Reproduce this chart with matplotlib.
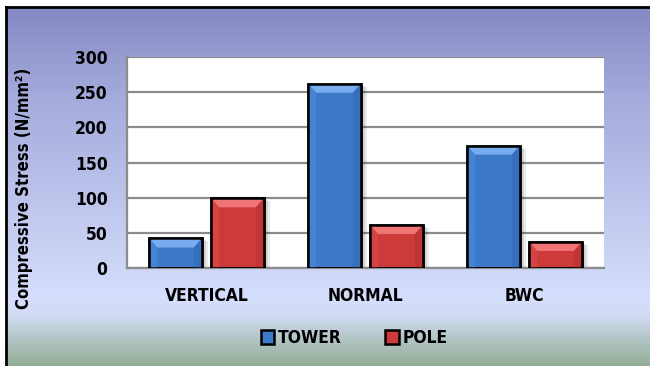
import numpy as np
import matplotlib.pyplot as plt
from matplotlib.colors import LinearSegmentedColormap
from matplotlib.patches import Polygon, Rectangle

plt.rcParams['font.family'] = ['DejaVu Sans']
plt.rcParams['font.stretch'] = 'condensed'
plt.rcParams['font.weight'] = 'bold'

categories = ['VERTICAL', 'NORMAL', 'BWC']
tower = [42, 262, 174]
pole = [99, 61, 37]
series_names = ['TOWER', 'POLE']
yticks = [0, 50, 100, 150, 200, 250, 300]

W, H = 650, 366
fig = plt.figure(figsize=(W / 100, H / 100), dpi=100)

# gradient backdrop for the chart frame
bg = fig.add_axes([6 / W, -0.02, 1.0, (H - 7) / H + 0.02], zorder=-10)
cmap = LinearSegmentedColormap.from_list(
    'frame', [(0, '#8488c3'), (0.25, '#a5abdc'), (0.80, '#d5defc'),
              (0.84, '#d2dcf5'), (1.0, '#8ba889')])
bg.imshow(np.linspace(0, 1, 256)[:, None], aspect='auto', cmap=cmap,
          extent=[0, 1, 0, 1])
bg.set_xticks([])
bg.set_yticks([])
for s in ['right', 'bottom']:
    bg.spines[s].set_visible(False)
for s in ['left', 'top']:
    bg.spines[s].set_linewidth(2)
    bg.spines[s].set_color('black')

ax = fig.add_axes([127 / W, (H - 268) / H, (604 - 127) / W, (268 - 57) / H])
ax.set_facecolor('white')
ax.set_ylim(0, 300)
ax.set_xlim(-0.5, 2.5)
ax.set_yticks(yticks)
ax.yaxis.grid(True, color='#8c8c8c', linewidth=1.6)
ax.set_axisbelow(True)
for s in ['top', 'right']:
    ax.spines[s].set_visible(False)
for s in ['left', 'bottom']:
    ax.spines[s].set_color('#8c8c8c')
    ax.spines[s].set_linewidth(1.6)
ax.tick_params(length=0, labelsize=12.5, pad=14)
ax.tick_params(axis='x', pad=14)
x = np.arange(len(categories))
ax.set_xticks(x)
ax.set_xticklabels(categories)

bw, off = 0.33, 0.195
colors = [('#3d79c9', '#78acee', '#4684d2', '#3670bd'),
          ('#cc3a3a', '#f07474', '#d44444', '#bf3434')]

px_x = 3.0 / (604 - 127)
px_y = 300.0 / (268 - 57)
for vals, sign, (face, top, side_l, side_r), name in zip(
        [tower, pole], [-1, 1], colors, series_names):
    bars = ax.bar(x + sign * off, vals, bw, color=face, edgecolor='black',
                  linewidth=1.8, label=name, zorder=3)
    for b in bars:
        bx, bwid, bh = b.get_x(), b.get_width(), b.get_height()
        # soft drop shadow to the right
        for k, a in [(6, 0.08), (4, 0.10), (2, 0.14)]:
            ax.add_patch(Rectangle((bx + k * px_x, 0), bwid, bh - k * px_y * 0.5,
                                   color='black', alpha=a, lw=0, zorder=2))
        dx = 8 * px_x
        dy = min(9 * px_y, bh * 0.45)
        ax.add_patch(Polygon([(bx, bh), (bx + dx, bh - dy), (bx + dx, 0), (bx, 0)],
                             closed=True, color=side_l, lw=0, zorder=4))
        ax.add_patch(Polygon([(bx + bwid, bh), (bx + bwid - dx, bh - dy),
                              (bx + bwid - dx, 0), (bx + bwid, 0)],
                             closed=True, color=side_r, lw=0, zorder=4))
        ax.add_patch(Polygon([(bx, bh), (bx + bwid, bh), (bx + bwid - dx, bh - dy),
                              (bx + dx, bh - dy)], closed=True, color=top,
                             lw=0, zorder=4))
        ax.add_patch(Rectangle((bx, 0), bwid, bh, fill=False, edgecolor='black',
                               lw=1.8, zorder=5))

fig.text(24 / W, 1 - 188 / H, 'Compressive Stress (N/mm²)', rotation=90,
         ha='center', va='center', fontsize=12, fontweight='bold')

leg = ax.legend(loc='center', bbox_to_anchor=(354 / W, 1 - 338 / H),
                bbox_transform=fig.transFigure, ncol=2, frameon=False,
                fontsize=12.5, handlelength=0.8, handleheight=0.8,
                handletextpad=0.2, columnspacing=2.5)

fig.savefig('out.png', dpi=100)
